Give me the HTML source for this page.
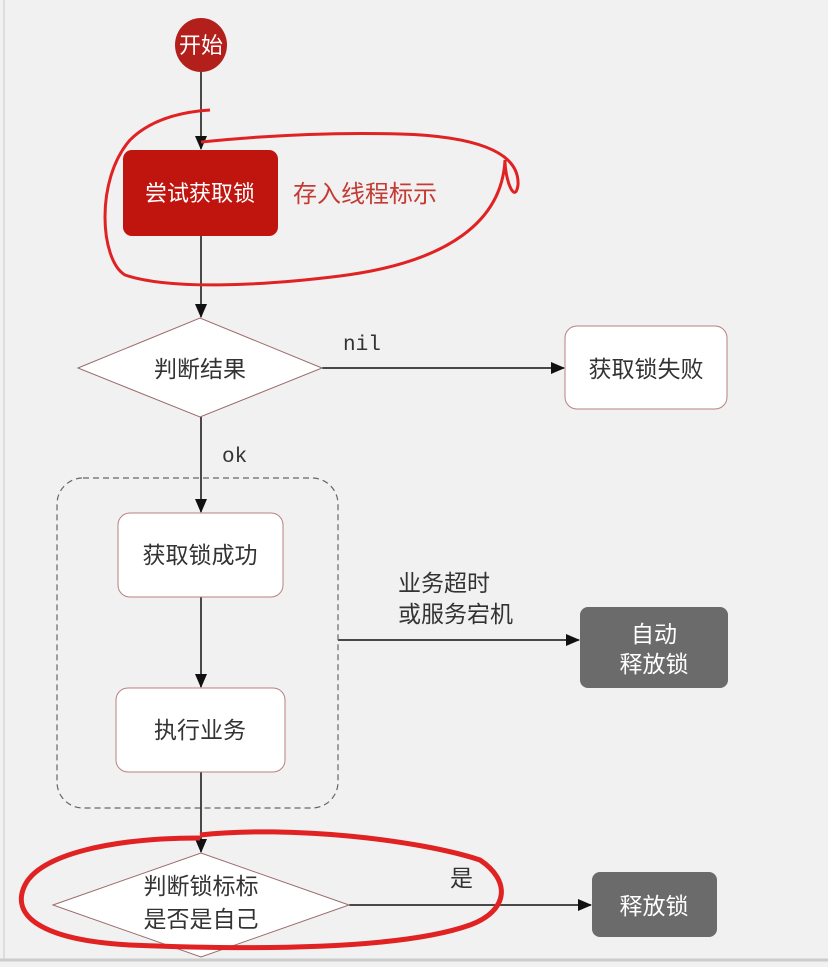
<!DOCTYPE html>
<html><head><meta charset="utf-8"><style>
html,body{margin:0;padding:0;background:#f1f1f1;}
svg{display:block}
text{font-family:"Liberation Sans","Noto Sans CJK SC",sans-serif;}
text.m{font-family:"Liberation Mono",monospace;}
</style></head><body>
<svg width="828" height="967" viewBox="0 0 828 967" xmlns="http://www.w3.org/2000/svg">
<defs><marker id="a" markerWidth="14" markerHeight="14" refX="13" refY="7" orient="auto" markerUnits="userSpaceOnUse"><path d="M0,1 L14,7 L0,13 z" fill="#111"/></marker></defs>
<rect x="0" y="0" width="828" height="967" fill="#f1f1f1"/>
<line x1="4" y1="0" x2="4" y2="960" stroke="#ddd" stroke-width="2"/>
<line x1="0" y1="960" x2="828" y2="960" stroke="#ccc" stroke-width="3"/>
<line x1="201" y1="72" x2="201" y2="149" stroke="#111" stroke-width="1.5" marker-end="url(#a)"/>
<line x1="201" y1="236" x2="201" y2="317" stroke="#111" stroke-width="1.5" marker-end="url(#a)"/>
<line x1="322" y1="368" x2="564" y2="368" stroke="#111" stroke-width="1.5" marker-end="url(#a)"/>
<line x1="201" y1="417" x2="201" y2="512" stroke="#111" stroke-width="1.5" marker-end="url(#a)"/>
<line x1="201" y1="597" x2="201" y2="687" stroke="#111" stroke-width="1.5" marker-end="url(#a)"/>
<line x1="201" y1="772" x2="201" y2="852" stroke="#111" stroke-width="1.5" marker-end="url(#a)"/>
<line x1="338" y1="640" x2="579" y2="640" stroke="#111" stroke-width="1.5" marker-end="url(#a)"/>
<line x1="349" y1="905" x2="591" y2="905" stroke="#111" stroke-width="1.5" marker-end="url(#a)"/>
<ellipse cx="201" cy="45" rx="26" ry="27" fill="#b3201c"/>
<text x="201" y="53" font-size="22" fill="#fff" text-anchor="middle">开始</text>
<rect x="123" y="150" width="155" height="86" rx="9" fill="#c0140f"/>
<text x="200" y="201" font-size="22" fill="#fff" text-anchor="middle">尝试获取锁</text>
<text x="293" y="202" font-size="24" fill="#c43a34">存入线程标示</text>
<polygon points="78,368 200,318 322,368 200,417" fill="#fff" stroke="#9a6b6b" stroke-width="1"/>
<text x="200" y="377" font-size="23" fill="#333" text-anchor="middle">判断结果</text>
<text x="343" y="350" font-size="21" fill="#333" class="m">nil</text>
<text x="222" y="462" font-size="21" fill="#333" class="m">ok</text>
<rect x="565" y="326" width="162" height="83" rx="12" fill="#fff" stroke="#b98080" stroke-width="1"/>
<text x="646" y="377" font-size="23" fill="#333" text-anchor="middle">获取锁失败</text>
<rect x="57" y="478" width="281" height="330" rx="26" fill="none" stroke="#666" stroke-width="1.2" stroke-dasharray="6,4"/>
<rect x="118" y="513" width="165" height="84" rx="12" fill="#fff" stroke="#b98080" stroke-width="1"/>
<text x="200" y="563" font-size="23" fill="#333" text-anchor="middle">获取锁成功</text>
<rect x="116" y="688" width="169" height="84" rx="12" fill="#fff" stroke="#b98080" stroke-width="1"/>
<text x="200" y="738" font-size="23" fill="#333" text-anchor="middle">执行业务</text>
<text x="398" y="591" font-size="23" fill="#333">业务超时</text>
<text x="398" y="622" font-size="23" fill="#333">或服务宕机</text>
<rect x="580" y="607" width="148" height="81" rx="8" fill="#6b6b6b"/>
<text x="654" y="642" font-size="23" fill="#fff" text-anchor="middle">自动</text>
<text x="654" y="672" font-size="23" fill="#fff" text-anchor="middle">释放锁</text>
<polygon points="53,905 201,853 349,905 201,957" fill="#fff" stroke="#9a6b6b" stroke-width="1"/>
<text x="201" y="894" font-size="23" fill="#333" text-anchor="middle">判断锁标标</text>
<text x="201" y="927" font-size="23" fill="#333" text-anchor="middle">是否是自己</text>
<text x="450" y="886" font-size="23" fill="#333">是</text>
<rect x="592" y="872" width="125" height="65" rx="8" fill="#6b6b6b"/>
<text x="654" y="914" font-size="23" fill="#fff" text-anchor="middle">释放锁</text>
<path d="M201,142 C260,136 330,132 400,134 C470,136 520,150 518,185 C515,205 505,180 505,160 C502,220 450,262 340,276 C260,286 170,290 125,275 C100,260 95,180 130,140 C150,120 180,112 210,110" fill="none" stroke="#e02222" stroke-width="3"/>
<path d="M200,835 C290,825 420,840 480,860 C510,880 510,910 470,925 C400,950 250,950 130,945 C40,940 10,915 25,885 C40,855 110,838 200,838" fill="none" stroke="#e02222" stroke-width="5"/>
</svg>
</body></html>
